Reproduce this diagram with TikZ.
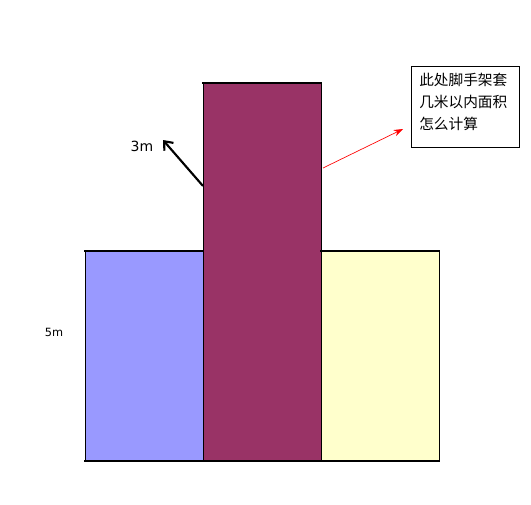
\documentclass[tikz,border=0pt]{standalone}
\usepackage{fontspec}
\setmainfont{DejaVu Sans}
\newfontfamily\cjk{Noto Sans CJK SC}
\usetikzlibrary{arrows.meta,calc}
\definecolor{wallblue}{HTML}{9999FF}
\definecolor{wallplum}{HTML}{993366}
\definecolor{wallcream}{HTML}{FFFFCC}
\tikzset{W node/.style={rectangle,draw=black,line width=0.6pt,inner sep=0pt,outer sep=0pt,minimum width=88.5pt},
	W edge/.style={line width=1.5pt,line cap=rect},}

\begin{document}
\begin{tikzpicture}[x=0.75pt,y=-0.75pt]
			\useasboundingbox (0,0) rectangle (531,504);

			\node[W node, fill=wallblue, minimum height=157.5pt] (wl) at (144,356) {};
			\node[W node, fill=wallcream, minimum height=157.5pt] (wr) at (380,356) {};
			\node[W node, fill=wallplum, minimum height=283.5pt] (wm) at (262,272) {};

			\draw[W edge] (wl.north west) -- (wl.north east);
			\draw[W edge] (wr.north west) -- (wr.north east);
			\draw[W edge] (wm.north west) -- (wm.north east);
			\draw[W edge] (wl.south west) -- (wr.south east);

			\node (h5) at (54,332) {\fontsize{8.5}{10}\selectfont 5m};
			\node (h3) at (142,146) {\fontsize{10.5}{12}\selectfont 3m};

			\node[draw, line width=0.6pt, anchor=north west, inner sep=0pt, outer sep=0pt,
				minimum width=81pt, minimum height=60.75pt] (note) at (411,66.5) {};
			\node[anchor=north west, inner sep=0pt, align=left,
				font=\cjk\fontsize{11}{16.5}\selectfont] (notetext) at (419,72.5)
				{此处脚手架套\\几米以内面积\\怎么计算};

			\coordinate (tip3) at (163,140);
			\draw[line width=1.6pt, -{Straight Barb[length=5.5pt,width=9pt]}] (wm.west |- 0,186) -- (tip3);
			\draw[red, line width=0.5pt, -{Stealth[length=7pt,width=5pt]}] ($(wm.east |- 0,168)+(2,0)$) -- ($(note.west |- 0,129)+(-8,0)$);
		\end{tikzpicture}
\end{document}
